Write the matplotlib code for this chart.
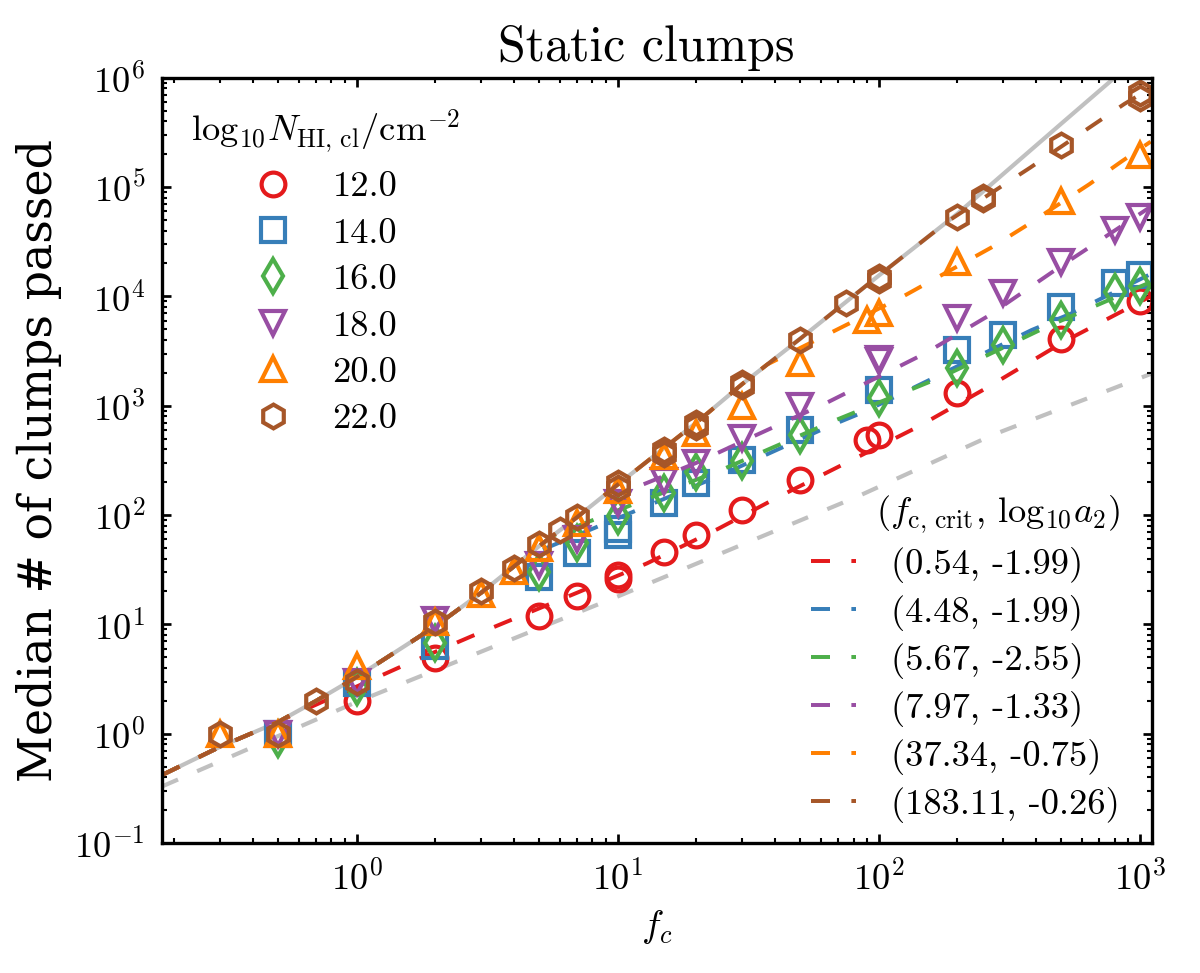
import matplotlib
matplotlib.use("Agg")
import matplotlib.pyplot as plt
from matplotlib.lines import Line2D

plt.rcParams["font.family"] = "cmr10"
plt.rcParams["mathtext.fontset"] = "cm"
plt.rcParams["axes.formatter.use_mathtext"] = True
plt.rcParams["axes.unicode_minus"] = False

# column densities (legend 1) and fit parameters (legend 2)
log_nhi = [12.0, 14.0, 16.0, 18.0, 20.0, 22.0]
f_crit = [0.54, 4.48, 5.67, 7.97, 37.34, 183.11]
log_a2 = [-1.99, -1.99, -2.55, -1.33, -0.75, -0.26]
colors = ["#e41a1c", "#377eb8", "#4daf4a", "#984ea3", "#ff7f00", "#a65628"]
markers = ["o", "s", "d", "v", "^", "h"]

# measured medians, one pair of lists per column density
f_12 = [1, 2, 5, 7, 10, 10, 15, 20, 30, 50, 90, 100, 200, 500, 1000]
n_12 = [2.0, 4.9, 12, 18, 26, 28, 46, 65, 110, 210, 485, 540, 1300, 4100, 9000]

f_14 = [0.5, 1, 2, 5, 7, 10, 10, 15, 20, 30, 50, 100, 200, 300, 500, 800, 1000]
n_14 = [1, 2.9, 6.3, 27, 45, 65, 75, 128, 195, 318, 600, 1390, 3230, 4430, 8030, 13200, 15700]

f_16 = [0.5, 1, 2, 5, 7, 10, 15, 20, 30, 50, 100, 200, 300, 500, 800, 1000]
n_16 = [0.9, 2.7, 6.7, 30, 55, 97, 160, 250, 310, 540, 1170, 2200, 3590, 6080, 11000, 12500]

f_18 = [0.5, 1, 2, 5, 7, 10, 15, 20, 30, 50, 100, 100, 200, 300, 500, 800, 1000]
n_18 = [1, 3, 11, 35, 60, 130, 205, 300, 510, 1000, 2700, 2550, 6400, 10800, 20700, 40500, 53400]

f_20 = [0.3, 0.5, 1, 2, 3, 4, 5, 7, 10, 15, 20, 30, 50, 90, 100, 200, 500, 1000]
n_20 = [1, 1, 4.2, 10.5, 19, 31, 50, 85, 170, 345, 560, 1000, 2440, 6100, 7000, 20500, 75000, 195000]

f_22 = [0.3, 0.5, 0.7, 1, 2, 3, 4, 5, 6, 7, 10, 10, 15, 15, 20, 20, 30, 30, 50, 75,
        100, 100, 200, 250, 250, 500, 1000, 1000]
n_22 = [1.0, 1.0, 2.0, 3.0, 10.5, 20, 33, 54, 73, 96, 195, 175, 395, 360, 690, 640, 1610, 1500,
        3980, 8700, 15000, 14000, 53000, 81000, 77000, 240000, 720000, 650000]

f_data = [f_12, f_14, f_16, f_18, f_20, f_22]
n_data = [n_12, n_14, n_16, n_18, n_20, n_22]

# grey reference curves
f_grey = [0.18, 0.3, 0.5, 0.7, 1, 2, 3, 5, 7, 10, 20, 30, 50, 100, 200, 500, 800, 1100]
n_grey = [0.42, 0.76, 1.28, 2.0, 3.3, 9.6, 19.5, 52, 96, 190, 700, 1580, 4100, 15500,
          57000, 380000, 1.0e6, 1.9e6]
f_grey_dash = [0.18, 1, 10, 82.6, 273, 1100]
n_grey_dash = [0.33, 1.95, 18, 147, 540, 1950]

# fitted curves above f_crit (below f_crit they follow the grey curve)
fit_f = [
    [0.54, 1.0, 1.51, 2.76, 7, 12.9, 24.3, 41.4, 141, 257, 517, 1100],
    [4.48, 24.9, 64, 88, 385, 548, 1100],
    [5.67, 24.9, 66, 175, 440, 1100],
    [7.97, 20, 34, 62.5, 150, 262, 500, 1100],
    [37.34, 63.7, 124, 270, 362, 640, 850, 1100],
    [183.11, 381, 660, 872, 1100],
]
fit_n = [
    [1.4, 2.7, 4.2, 7.8, 19.5, 36, 75, 147, 640, 1440, 3900, 10000],
    [42, 232, 643, 880, 4920, 7000, 16000],
    [65, 258, 713, 1840, 5270, 13500],
    [123, 300, 540, 1050, 3000, 6600, 19000, 66000],
    [2380, 4500, 10000, 28000, 43400, 106000, 171000, 260000],
    [48300, 151000, 367000, 575000, 800000],
]

fig = plt.figure(figsize=(8, 973 / 150), dpi=150)
ax = fig.add_axes([0.13475, 0.13361, 0.825, 0.78654])

ax.plot(f_grey, n_grey, color="#c0c0c0", lw=2.0, zorder=1)
ax.plot(f_grey_dash, n_grey_dash, color="#c0c0c0", lw=2.0, dashes=(4.1, 5.0), zorder=1)

ms, mew, lw = 11.4, 2.0, 1.9
marker_handles = []
line_handles = []
for i in range(len(log_nhi)):
    ax.plot(f_data[i], n_data[i], ls="none", marker=markers[i], ms=ms, mew=mew,
            mfc="none", mec=colors[i])
    f_line = [f for f in f_grey if f < f_crit[i]] + fit_f[i]
    n_line = [n for f, n in zip(f_grey, n_grey) if f < f_crit[i]] + fit_n[i]
    ax.plot(f_line, n_line, color=colors[i], lw=lw, dashes=(4.8, 5.4))
    marker_handles.append(Line2D([], [], ls="none", marker=markers[i], ms=ms, mew=mew,
                                 mfc="none", mec=colors[i]))
    line_handles.append(Line2D([], [], color=colors[i], lw=lw, dashes=(4.8, 5.4)))

ax.set_xscale("log")
ax.set_yscale("log")
ax.set_xlim(0.179, 1110)
ax.set_ylim(0.1, 1e6)

for side in ax.spines.values():
    side.set_linewidth(1.6)
ax.tick_params(which="both", direction="in", top=True, right=True, labelsize=17.5, pad=8)
ax.tick_params(which="major", length=4.5, width=1.3)
ax.tick_params(which="minor", length=2.4, width=1.0)

ax.set_title("Static clumps", fontsize=24, pad=8, x=0.49)
ax.set_xlabel(r"$f_c$", fontsize=18, labelpad=5)
ax.set_ylabel("Median # of clumps passed", fontsize=22, family="DejaVu Serif", labelpad=6)

leg1 = ax.legend(marker_handles, [f"{v:.1f}" for v in log_nhi],
                 title=r"$\log_{10}\!N_{\rm HI,\,cl}/{\rm cm}^{-2}$",
                 loc="upper left", bbox_to_anchor=(0.03, 0.96), frameon=False,
                 fontsize=17.5, title_fontsize=17.5, numpoints=1, handlelength=1.0,
                 handletextpad=1.14, labelspacing=0.38, borderpad=0, borderaxespad=0)
leg1._legend_box.sep = 7
ax.add_artist(leg1)

ax.legend(line_handles, [f"({fc:.2f}, {a:.2f})" for fc, a in zip(f_crit, log_a2)],
          title=r"$(f_{\rm c,\,crit},\,\log_{10}\!a_2)$", alignment="right",
          loc="lower right", bbox_to_anchor=(0.968, 0.026), frameon=False,
          fontsize=17.5, title_fontsize=17.5, handlelength=1.23,
          handletextpad=0.96, labelspacing=0.33, borderpad=0, borderaxespad=0)

fig.savefig("out.png", dpi=150)
